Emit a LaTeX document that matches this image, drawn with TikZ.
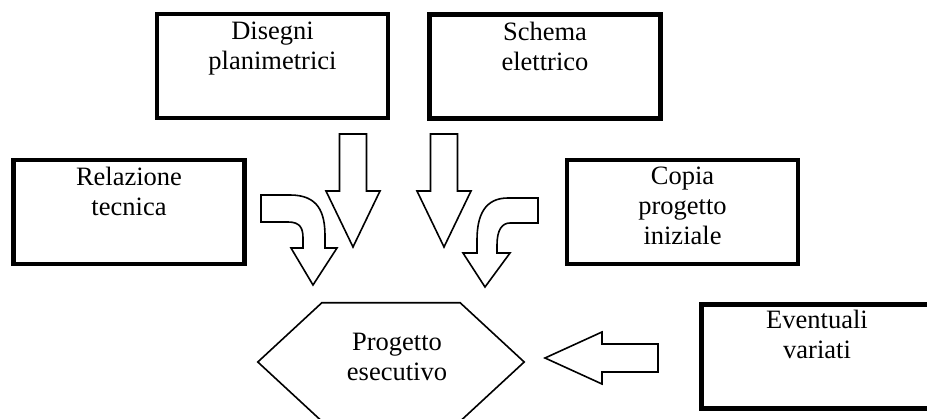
\documentclass[tikz,border=0pt]{standalone}
\usepackage{fontspec}
\setmainfont{Liberation Serif}
\usetikzlibrary{calc}
\tikzset{ box/.style = { rectangle
                       , draw
                       , line width     = 4.5pt
                       , inner sep      = 0pt
                       , minimum width  = 231pt
                       , minimum height = 104pt
                       },
          txt/.style = { align     = center
                       , inner sep = 0pt
                       , anchor    = north
                       , font      = \fontsize{26.5}{30}\selectfont
                       },
          arr/.style = { draw       = black
                       , line width = 1.6pt
                       , line join  = miter
                       , fill       = white
                       },
          downarr/.pic = { \path[arr] (-13.5,-113) -- (13.5,-113) -- (13.5,-56) -- (27,-56)
                                      -- (0,0) -- (-27,-56) -- (-13.5,-56) -- cycle; }
        }
\begin{document}
\begin{tikzpicture}[x=1pt, y=-1pt]
    \useasboundingbox (0,0) rectangle (927,419);
    % boxes
    \node[box] (dis) at (272.5,66)  {};
    \node[box] (sch) at (545,66.5)  {};
    \node[box] (rel) at (129,212)   {};
    \node[box] (cop) at (682.5,212) {};
    \node[box] (eve) at (817,356.5) {};
    \node[txt] (dis-t) at ([yshift=-10pt]dis.north) {Disegni\\planimetrici};
    \node[txt] (sch-t) at ([yshift=-10pt]sch.north) {Schema\\elettrico};
    \node[txt] (rel-t) at ([yshift=-9pt]rel.north) {Relazione\\tecnica};
    \node[txt] (cop-t) at ([yshift=-9pt]cop.north) {Copia\\progetto\\iniziale};
    \node[txt] (eve-t) at ([yshift=-8pt]eve.north) {Eventuali\\variati};
    % hexagon
    \node[minimum width=266pt, minimum height=118pt, inner sep=0pt] (prog) at (391,362) {};
    \draw[line width=1.6pt] (prog.west) -- ([xshift=64pt]prog.north west)
        -- ([xshift=-64pt]prog.north east) -- (prog.east)
        -- ([xshift=-64pt]prog.south east) -- ([xshift=64pt]prog.south west) -- cycle;
    \node[txt, anchor=center] (prog-t) at (397,357) {Progetto\\esecutivo};
    % block arrows
    \coordinate (dis-a) at (353,247);
    \coordinate (sch-a) at (444,247);
    \pic at (dis-a) {downarr};
    \pic at (sch-a) {downarr};
    \path[arr] (261,195) -- (290,195) .. controls (318,195) and (325,212) .. (325,236)
        -- (325,248) -- (337,248) -- (313,285) -- (291,248) -- (303,248) -- (303,238)
        .. controls (303,228) and (300,222) .. (288,222) -- (261,222) -- cycle;
    \path[arr] (538,198) -- (508,198) .. controls (485,198) and (477,215) .. (477,240)
        -- (477,253) -- (463,253) -- (485,287) -- (510,253) -- (497,253) -- (497,245)
        .. controls (497,230) and (502,223) .. (510,223) -- (538,223) -- cycle;
    \path[arr] (658,344) -- (602,344) -- (602,332) -- (545,358) -- (602,384)
        -- (602,372) -- (658,372) -- cycle;
\end{tikzpicture}
\end{document}
